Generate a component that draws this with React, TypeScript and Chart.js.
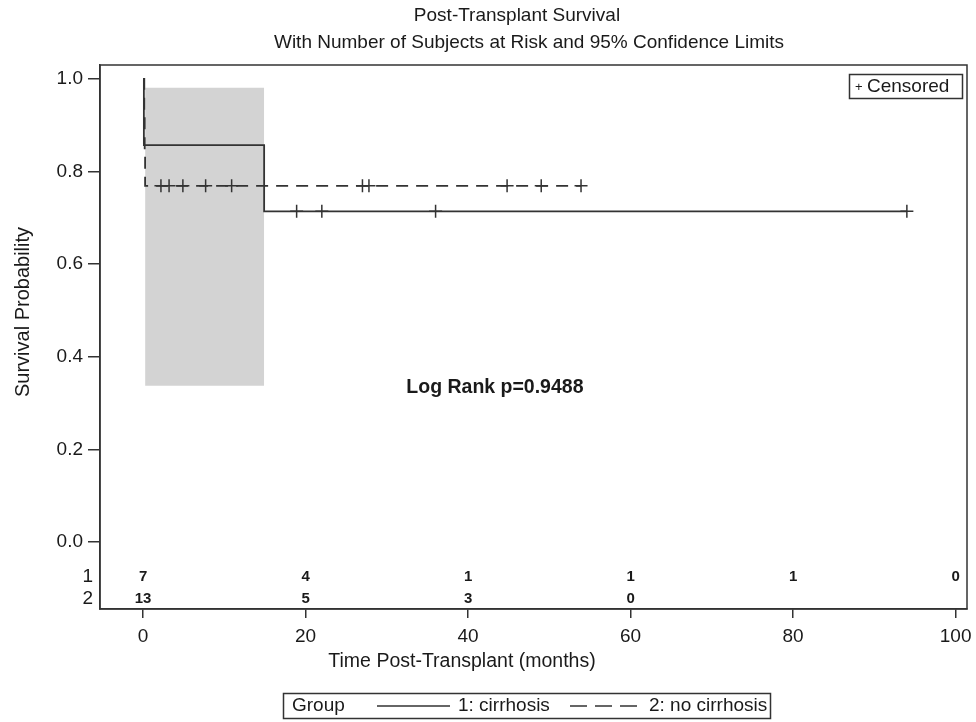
import React, { useEffect, useRef } from "react";
import { Chart, registerables } from "chart.js";

Chart.register(...registerables);

// ---- data ----
const group1Times = [0, 0.1, 14.9, 94];
const group1Surv = [1.0, 0.857, 0.714, 0.714];
const group2Times = [0, 0.15, 0.2, 0.25, 53.9];
const group2Surv = [1.0, 0.923, 0.846, 0.769, 0.769];
const censor1Times = [18.9, 22.0, 36.0, 94.0];
const censor1Surv = 0.714;
const censor2Times = [2.2, 3.2, 4.9, 7.7, 10.9, 27.0, 27.8, 44.8, 49.0, 53.9];
const censor2Surv = 0.769;
const bandTimes = [0.25, 14.9];
const bandUpper = [0.981, 0.981];
const bandLower = [0.337, 0.337];
const atRiskTimes = [0, 20, 40, 60, 80, 100];
const atRisk1 = [7, 4, 1, 1, 1, 0];
const atRisk2 = [13, 5, 3, 0];
const xTicks = [0, 20, 40, 60, 80, 100];
const yTicks = [0, 0.2, 0.4, 0.6, 0.8, 1.0];
const titleText = "Post-Transplant Survival";
const subtitleText = "With Number of Subjects at Risk and 95% Confidence Limits";
const xTitle = "Time Post-Transplant (months)";
const yTitle = "Survival Probability";
const logRankText = "Log Rank p=0.9488";
const groupLabels = ["1: cirrhosis", "2: no cirrhosis"];

const LINE = "#333333";
const TEXT = "#1a1a1a";
const FONT = '"Liberation Sans", Arial, sans-serif';

const overlayPlugin = {
  id: "overlay",
  afterDraw(chart: any) {
    const { ctx, chartArea } = chart;
    const xs = chart.scales.x;
    const ys = chart.scales.y;
    ctx.save();
    // frame
    ctx.strokeStyle = LINE;
    ctx.lineWidth = 1.5;
    ctx.strokeRect(chartArea.left, chartArea.top, chartArea.right - chartArea.left, chartArea.bottom - chartArea.top);

    ctx.fillStyle = TEXT;
    // titles
    ctx.textAlign = "center";
    ctx.textBaseline = "middle";
    ctx.font = `19px ${FONT}`;
    ctx.fillText(titleText, 517, 16);
    ctx.fillText(subtitleText, 529, 43);

    // axis titles
    ctx.font = `19.5px ${FONT}`;
    ctx.fillText(xTitle, 462, 662);
    ctx.save();
    ctx.translate(23, 312);
    ctx.rotate(-Math.PI / 2);
    ctx.font = `20px ${FONT}`;
    ctx.fillText(yTitle, 0, 0);
    ctx.restore();

    // log rank
    ctx.font = `bold 19.5px ${FONT}`;
    ctx.fillText(logRankText, xs.getPixelForValue(43.3), ys.getPixelForValue(0.334));

    // at risk table
    const row1Y = ys.getPixelForValue(-0.075);
    const row2Y = ys.getPixelForValue(-0.123);
    ctx.font = `bold 15px ${FONT}`;
    atRisk1.forEach((v, i) => ctx.fillText(String(v), xs.getPixelForValue(atRiskTimes[i]), row1Y));
    atRisk2.forEach((v, i) => ctx.fillText(String(v), xs.getPixelForValue(atRiskTimes[i]), row2Y));
    ctx.textAlign = "right";
    ctx.font = `19px ${FONT}`;
    ctx.fillText("1", 93, row1Y);
    ctx.fillText("2", 93, row2Y);

    // censored legend
    ctx.strokeStyle = LINE;
    ctx.lineWidth = 1.5;
    ctx.strokeRect(849.5, 74.5, 113, 24);
    ctx.textAlign = "left";
    ctx.font = `13px ${FONT}`;
    ctx.fillText("+", 855, 87);
    ctx.font = `19px ${FONT}`;
    ctx.fillText("Censored", 867, 87);

    // group legend
    ctx.strokeRect(283.5, 693.5, 487, 25);
    const ly = 706;
    ctx.fillText("Group", 292, ly);
    ctx.lineWidth = 1.5;
    ctx.beginPath();
    ctx.moveTo(377, ly);
    ctx.lineTo(450, ly);
    ctx.stroke();
    ctx.fillText(groupLabels[0], 458, ly);
    ctx.setLineDash([17, 8]);
    ctx.beginPath();
    ctx.moveTo(570, ly);
    ctx.lineTo(637, ly);
    ctx.stroke();
    ctx.setLineDash([]);
    ctx.fillText(groupLabels[1], 649, ly);

    ctx.restore();
  },
};

export default function App() {
  const ref = useRef<HTMLCanvasElement | null>(null);
  useEffect(() => {
    if (!ref.current) return;
    const chart = new Chart(ref.current, {
      type: "line",
      data: {
        datasets: [
          {
            label: "upper",
            data: bandTimes.map((t, i) => ({ x: t, y: bandUpper[i] })),
            borderWidth: 0,
            borderColor: "rgba(0,0,0,0)",
            backgroundColor: "#d3d3d3",
            pointRadius: 0,
            fill: "+1",
            order: 10,
          },
          {
            label: "lower",
            data: bandTimes.map((t, i) => ({ x: t, y: bandLower[i] })),
            borderWidth: 0,
            borderColor: "rgba(0,0,0,0)",
            pointRadius: 0,
            fill: false,
            order: 10,
          },
          {
            label: groupLabels[0],
            data: group1Times.map((t, i) => ({ x: t, y: group1Surv[i] })),
            stepped: "before",
            borderColor: LINE,
            borderWidth: 1.8,
            pointRadius: 0,
            fill: false,
            order: 1,
          },
          {
            label: groupLabels[1],
            data: group2Times.map((t, i) => ({ x: t, y: group2Surv[i] })),
            stepped: "before",
            borderColor: LINE,
            borderWidth: 1.8,
            borderDash: [12, 8],
            pointRadius: 0,
            fill: false,
            order: 1,
          },
          {
            label: "censor1",
            data: censor1Times.map((t) => ({ x: t, y: censor1Surv })),
            showLine: false,
            pointStyle: "cross",
            pointRadius: 6.5,
            borderColor: LINE,
            borderWidth: 1.5,
            order: 0,
          },
          {
            label: "censor2",
            data: censor2Times.map((t) => ({ x: t, y: censor2Surv })),
            showLine: false,
            pointStyle: "cross",
            pointRadius: 6.5,
            borderColor: LINE,
            borderWidth: 1.5,
            order: 0,
          },
        ],
      },
      options: {
        animation: false,
        responsive: false,
        maintainAspectRatio: false,
        layout: { padding: { left: 0, top: 65, right: 9, bottom: 0 } },
        plugins: {
          legend: { display: false },
          title: { display: false },
          tooltip: { enabled: false },
        },
        scales: {
          x: {
            type: "linear",
            min: -5.3,
            max: 101.4,
            afterBuildTicks: (s: any) => {
              s.ticks = xTicks.map((v) => ({ value: v }));
            },
            afterFit: (s: any) => {
              s.height = 113;
              s.paddingLeft = 0;
              s.paddingRight = 0;
            },
            ticks: {
              color: TEXT,
              font: { family: FONT, size: 19 },
              padding: 7,
              maxRotation: 0,
              callback: (v: any) => String(v),
            },
            grid: { drawOnChartArea: false, drawTicks: true, tickLength: 9, color: LINE, lineWidth: 1.5 },
            border: { display: true, color: LINE, width: 1.5 },
          },
          y: {
            type: "linear",
            min: -0.145,
            max: 1.03,
            afterBuildTicks: (s: any) => {
              s.ticks = yTicks.map((v) => ({ value: v }));
            },
            afterFit: (s: any) => {
              s.width = 100;
              s.paddingTop = 0;
              s.paddingBottom = 0;
            },
            ticks: {
              color: TEXT,
              font: { family: FONT, size: 19 },
              padding: 5,
              callback: (v: any) => Number(v).toFixed(1),
            },
            grid: { drawOnChartArea: false, drawTicks: true, tickLength: 12, color: LINE, lineWidth: 1.5 },
            border: { display: true, color: LINE, width: 1.5 },
          },
        },
      } as any,
      plugins: [overlayPlugin],
    });
    return () => chart.destroy();
  }, []);
  return (
    <div style={{ position: "fixed", left: 0, top: 0, width: 976, height: 722, background: "#fff" }}>
      <canvas ref={ref} width={976} height={722} style={{ width: 976, height: 722 }} />
    </div>
  );
}
